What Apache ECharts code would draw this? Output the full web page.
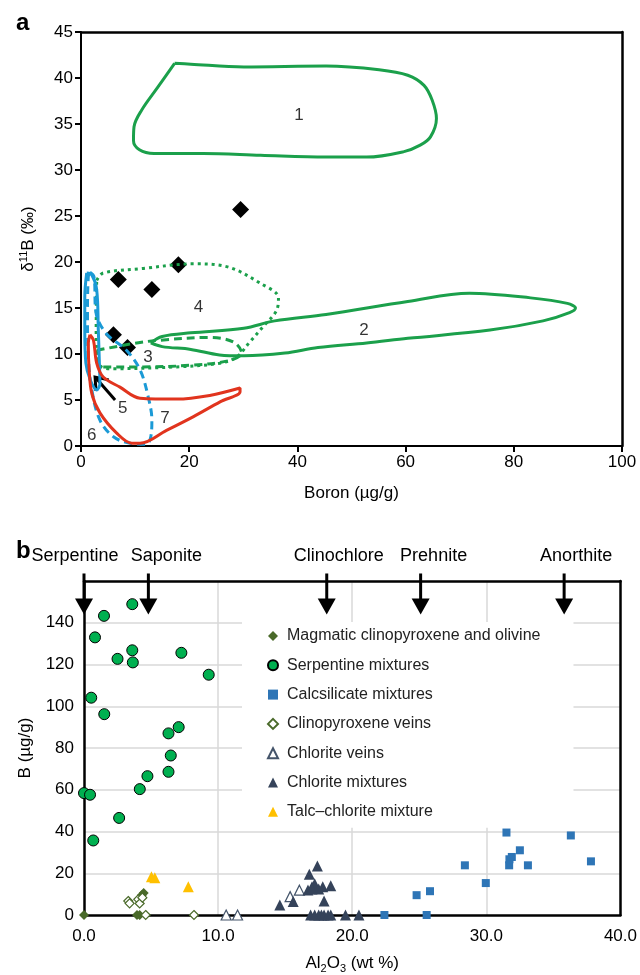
<!DOCTYPE html>
<html>
<head>
<meta charset="utf-8">
<style>
html, body { margin: 0; padding: 0; background: #fff; }
#chart { width: 640px; height: 975px; }
</style>
<script src="https://cdn.jsdelivr.net/npm/echarts@6/dist/echarts.min.js"></script>
</head>
<body>
<div id="chart"></div>
<script>
// ---- Panel a: fields in boron (µg/g) vs d11B (permil) ----
const field1 = [[17.3,41.6],[20.3,41.5],[30.1,41.2],[45.3,41.3],[55.1,40.9],[60.4,40.3],[63.4,39.2],[64.9,37.6],[65.7,35.6],[64.6,33.6],[62.7,32.7],[59.7,32.0],[52.8,31.4],[45.3,31.4],[33.2,31.6],[22.6,31.8],[13.5,31.8],[10.8,32.2],[9.7,33.2],[9.8,34.7],[11.2,36.5],[14.2,39.0]];
const field2 = [[12.9,11.2],[15.0,11.9],[20.3,12.3],[30.1,12.8],[35.8,13.6],[45.3,14.3],[60.4,15.7],[71.8,16.6],[83.1,16.1],[89.9,15.5],[91.4,15.0],[90.3,14.5],[85.4,13.6],[75.6,12.6],[60.4,11.7],[52.8,11.2],[43.8,10.7],[37.7,10.1],[30.1,9.8],[25.6,9.9],[20.3,10.5],[15.0,10.8]];
const field3 = [[2.9,10.4],[10.3,11.2],[14.6,11.5],[23.8,11.8],[28.2,11.3],[29.7,10.1],[27.5,9.3],[20.8,8.8],[11.5,8.6],[4.1,8.6],[2.9,9.3]];
const field4 = [[2.9,18.0],[4.1,18.8],[11.5,19.3],[20.8,19.8],[26.9,19.5],[33.1,17.7],[36.5,16.1],[36.2,14.8],[33.7,13.0],[31.2,11.3],[28.8,9.7],[25.7,9.0],[17.7,8.6],[5.4,8.4],[3.5,8.8],[2.8,12.6]];
const field5 = [[1.05,18.8],[0.7,16.2],[0.7,12.6],[0.9,9.0],[1.7,7.2],[2.9,6.1],[3.5,6.8],[3.4,9.0],[3.2,12.6],[2.9,17.0],[2.0,18.6]];
const field6 = [[1.66,18.9],[2.4,18.4],[2.8,14.4],[4.7,12.2],[8.4,10.4],[10.9,8.3],[12.4,5.4],[13.1,2.8],[12.9,1.0],[12.1,0.2],[9.1,0.3],[6.0,1.0],[3.5,2.8],[2.0,6.1],[1.35,9.7],[1.2,14.4],[1.35,18.4]];
const field7 = [[1.66,12.1],[2.3,11.5],[2.9,9.0],[4.1,7.5],[7.2,6.4],[10.9,5.2],[17.7,5.1],[23.8,5.5],[29.4,6.3],[29.4,5.9],[25.7,4.8],[20.8,3.2],[15.8,1.7],[10.9,0.3],[9.4,0.3],[6.6,1.4],[3.5,3.6],[2.0,5.7],[1.5,8.3],[1.35,11.2]];
const fieldLabels = ['1', '2', '3', '4', '5', '6', '7'];
const fieldLabelX = [40.3, 52.3, 12.4, 21.7, 7.7, 2.0, 15.5];
const fieldLabelY = [35.9, 12.6, 9.6, 15.1, 4.1, 1.2, 3.0];
const samplesBoron = [6.9, 13.1, 18.0, 6.0, 8.6, 29.5];
const samplesD11B = [18.1, 17.0, 19.7, 12.1, 10.7, 25.7];
const pointerArrow = [[6.3, 5.0, 2.6, 7.5]];

// ---- Panel b: Al2O3 (wt %) vs B (µg/g) ----
const magmatic = [[0,0],[3.95,0],[4.15,0],[4.3,9.5],[4.45,10.5]];
const serpentineMix = [[3.6,148.9],[1.49,143.3],[0.82,133],[3.6,126.8],[2.5,122.7],[3.64,121],[7.26,125.6],[9.3,115.1],[0.54,104.1],[1.51,96.2],[6.3,87],[7.06,90],[6.47,76.4],[6.3,68.6],[4.73,66.5],[4.16,60.3],[0,58.4],[0.45,57.6],[2.62,46.5],[0.69,35.7]];
const calcsilicateMix = [[22.4,0],[25.55,0],[24.8,9.5],[25.8,11.4],[28.4,23.8],[29.96,15.3],[31.5,39.5],[31.7,23.8],[31.72,26.7],[31.9,27.8],[32.5,31],[33.1,23.8],[36.3,38.1],[37.8,25.7]];
const cpxVeins = [[3.3,6.7],[3.4,5.6],[4.05,7.5],[4.15,5.5],[4.35,8.3],[4.6,0],[8.2,0]];
const chloriteVeins = [[10.6,0],[11.45,0],[15.37,8.8],[16.06,11.9]];
const chloriteMix = [[14.6,4.8],[15.6,6.5],[16.8,19.5],[17.4,23.5],[16.7,12],[17.0,13.5],[17.2,15],[17.5,12.5],[17.8,13.5],[18.4,14],[17.9,6.7],[17.0,12.5],[16.9,0],[17.2,0],[17.5,0],[17.7,0],[17.9,0],[18.2,0],[18.4,0],[19.5,0],[20.5,0]];
const talcChlorite = [[5.03,18.3],[5.28,17.8],[7.78,13.5]];
const mineralNames = ['Serpentine', 'Saponite', 'Clinochlore', 'Prehnite', 'Anorthite'];
const mineralAl2O3 = [0, 4.8, 18.1, 25.1, 35.8];
const arrowTopB = 163.6;
const arrowTipB = 144;

const FONT = '"Liberation Sans", Arial, sans-serif';
const GREEN = '#1ba04b';
const BLUE = '#1b9ad6';
const RED = '#e1341e';
const mineralLabelDx = [-9, 18, 12, 13, 12];

const chart = echarts.init(document.getElementById('chart'));

function fieldSeries(pts, color, type) {
    return {
        type: 'line',
        xAxisIndex: 0,
        yAxisIndex: 0,
        data: pts.concat([pts[0]]),
        smooth: 0.35,
        symbol: 'none',
        silent: true,
        lineStyle: {color: color, width: 3, type: type}
    };
}

function pointSeries(name, symbol, size, style, data) {
    return {
        name: name,
        type: 'scatter',
        xAxisIndex: 2,
        yAxisIndex: 2,
        symbol: symbol,
        symbolSize: size,
        itemStyle: Object.assign({opacity: 1}, style),
        data: data
    };
}

const axisA = {
    axisLine: {lineStyle: {color: '#000', width: 2}},
    axisTick: {show: true, length: 6, lineStyle: {color: '#000', width: 2}},
    axisLabel: {color: '#000', fontSize: 17, fontFamily: FONT},
    splitLine: {show: false},
    nameTextStyle: {color: '#000', fontSize: 17, fontFamily: FONT}
};
const axisB = {
    axisLine: {lineStyle: {color: '#000', width: 2.5}},
    axisTick: {show: false},
    axisLabel: {color: '#000', fontSize: 17, fontFamily: FONT},
    splitLine: {show: true, showMinLine: false, showMaxLine: false, lineStyle: {color: '#d9d9d9', width: 1.5}},
    nameTextStyle: {color: '#000', fontSize: 17, fontFamily: FONT}
};
const borderAxis = {
    axisLine: {show: true, onZero: false, lineStyle: {color: '#000', width: 2.5}},
    axisTick: {show: false},
    axisLabel: {show: false},
    splitLine: {show: false},
    z: 3
};

chart.setOption({
    animation: false,
    textStyle: {fontFamily: FONT},
    title: [
        {text: 'a', left: 11, top: 6, textStyle: {fontSize: 24, fontWeight: 'bold', color: '#000', fontFamily: FONT}},
        {text: 'b', left: 11, top: 534, textStyle: {fontSize: 24, fontWeight: 'bold', color: '#000', fontFamily: FONT}}
    ],
    grid: [
        {left: 81, right: 18, top: 32, height: 414},
        {left: 84, right: 18, top: 581, height: 336}
    ],
    legend: {
        orient: 'vertical',
        left: 242,
        top: 622,
        padding: [6, 33, 8, 25],
        itemGap: 13.3,
        itemWidth: 10,
        itemHeight: 10,
        selectedMode: false,
        backgroundColor: '#fff',
        textStyle: {color: '#222', fontSize: 16, fontFamily: FONT, padding: [0, 0, 0, 4]},
        data: ['Magmatic clinopyroxene and olivine', 'Serpentine mixtures', 'Calcsilicate mixtures',
            'Clinopyroxene veins', 'Chlorite veins', 'Chlorite mixtures', 'Talc\u2013chlorite mixture']
    },
    xAxis: [
        Object.assign({}, axisA, {
            gridIndex: 0, type: 'value', min: 0, max: 100, interval: 20,
            axisLabel: Object.assign({}, axisA.axisLabel, {margin: 8}),
            name: 'Boron (\u00b5g/g)', nameLocation: 'middle', nameGap: 39
        }),
        Object.assign({}, borderAxis, {gridIndex: 0, type: 'value', position: 'top', min: 0, max: 100}),
        Object.assign({}, axisB, {
            gridIndex: 1, type: 'value', min: 0, max: 40, interval: 10,
            axisLabel: Object.assign({}, axisB.axisLabel, {margin: 13, formatter: v => v.toFixed(1)}),
            name: 'Al{s|2}O{s|3} (wt %)', nameLocation: 'middle', nameGap: 38,
            nameTextStyle: Object.assign({}, axisB.nameTextStyle, {
                rich: {s: {fontSize: 11, fontFamily: FONT, color: '#000', verticalAlign: 'bottom', padding: [10, 0, 0, 0]}}
            })
        }),
        Object.assign({}, borderAxis, {gridIndex: 1, type: 'value', position: 'top', min: 0, max: 40})
    ],
    yAxis: [
        Object.assign({}, axisA, {
            gridIndex: 0, type: 'value', min: 0, max: 45, interval: 5,
            axisLabel: Object.assign({}, axisA.axisLabel, {margin: 8}),
            name: '\u03b4{s|11}B (\u2030)', nameLocation: 'middle', nameGap: 42,
            nameTextStyle: Object.assign({}, axisA.nameTextStyle, {
                rich: {s: {fontSize: 11, fontFamily: FONT, color: '#000', verticalAlign: 'top', padding: [0, 0, 10, 0]}}
            })
        }),
        Object.assign({}, borderAxis, {gridIndex: 0, type: 'value', position: 'right', min: 0, max: 45}),
        Object.assign({}, axisB, {
            gridIndex: 1, type: 'value', min: 0, max: 160, interval: 20,
            axisLabel: Object.assign({}, axisB.axisLabel, {margin: 10, formatter: v => (v >= 160 ? '' : String(v))}),
            name: 'B (\u00b5g/g)', nameLocation: 'middle', nameGap: 50
        }),
        Object.assign({}, borderAxis, {gridIndex: 1, type: 'value', position: 'right', min: 0, max: 160})
    ],
    series: [
        fieldSeries(field1, GREEN, 'solid'),
        fieldSeries(field2, GREEN, 'solid'),
        fieldSeries(field3, GREEN, [8, 5]),
        fieldSeries(field4, GREEN, [3, 4]),
        fieldSeries(field5, BLUE, 'solid'),
        fieldSeries(field6, BLUE, [8, 5]),
        fieldSeries(field7, RED, 'solid'),
        {
            type: 'scatter',
            xAxisIndex: 0, yAxisIndex: 0,
            symbolSize: 0,
            silent: true,
            data: fieldLabels.map((t, i) => ({name: t, value: [fieldLabelX[i], fieldLabelY[i]]})),
            label: {show: true, position: 'inside', formatter: p => p.name, color: '#000', fontSize: 17, fontFamily: FONT}
        },
        {
            type: 'scatter',
            xAxisIndex: 0, yAxisIndex: 0,
            symbol: 'diamond',
            symbolSize: 17,
            silent: true,
            itemStyle: {color: '#000', opacity: 1},
            data: samplesBoron.map((b, i) => [b, samplesD11B[i]])
        },
        {
            type: 'custom',
            xAxisIndex: 0, yAxisIndex: 0,
            clip: false,
            silent: true,
            data: pointerArrow,
            renderItem: function (params, api) {
                const tail = api.coord([api.value(0), api.value(1)]);
                const head = api.coord([api.value(2), api.value(3)]);
                const ang = Math.atan2(tail[1] - head[1], tail[0] - head[0]);
                const len = 14, spread = 0.65;
                const a1 = [head[0] + len * Math.cos(ang + spread), head[1] + len * Math.sin(ang + spread)];
                const a2 = [head[0] + len * Math.cos(ang - spread), head[1] + len * Math.sin(ang - spread)];
                const st = {stroke: '#000', lineWidth: 3, fill: null};
                return {
                    type: 'group',
                    children: [
                        {type: 'line', shape: {x1: tail[0], y1: tail[1], x2: head[0], y2: head[1]}, style: st},
                        {type: 'polyline', shape: {points: [a1, head, a2]}, style: st}
                    ]
                };
            }
        },
        // ---- panel b ----
        pointSeries('Magmatic clinopyroxene and olivine', 'diamond', 10, {color: '#4a6a2a'}, magmatic),
        pointSeries('Serpentine mixtures', 'circle', 11, {color: '#00b050', borderColor: '#000', borderWidth: 1}, serpentineMix),
        pointSeries('Calcsilicate mixtures', 'rect', 8, {color: '#2e75b6'}, calcsilicateMix),
        pointSeries('Clinopyroxene veins', 'diamond', 9, {color: '#fff', borderColor: '#4a6a2a', borderWidth: 1.2}, cpxVeins),
        pointSeries('Chlorite veins', 'triangle', 10, {color: '#fff', borderColor: '#44546a', borderWidth: 1.2}, chloriteVeins),
        pointSeries('Chlorite mixtures', 'triangle', 11, {color: '#35435a'}, chloriteMix),
        pointSeries('Talc\u2013chlorite mixture', 'triangle', 11, {color: '#ffc000'}, talcChlorite),
        {
            type: 'custom',
            xAxisIndex: 2, yAxisIndex: 2,
            clip: false,
            silent: true,
            z: 5,
            data: mineralAl2O3.map(x => [x, arrowTopB, arrowTipB]),
            renderItem: function (params, api) {
                const top = api.coord([api.value(0), api.value(1)]);
                const tip = api.coord([api.value(0), api.value(2)]);
                const headH = 16, headW = 9;
                return {
                    type: 'group',
                    children: [
                        {type: 'line', shape: {x1: top[0], y1: top[1], x2: tip[0], y2: tip[1] - headH + 2}, style: {stroke: '#000', lineWidth: 3}},
                        {type: 'polygon', shape: {points: [[tip[0] - headW, tip[1] - headH], [tip[0] + headW, tip[1] - headH], [tip[0], tip[1]]]}, style: {fill: '#000'}},
                        {
                            type: 'text',
                            style: {
                                text: mineralNames[params.dataIndex],
                                x: top[0] + mineralLabelDx[params.dataIndex],
                                y: top[1] - 17,
                                align: 'center',
                                verticalAlign: 'middle',
                                fontSize: 18,
                                fontFamily: FONT,
                                fill: '#000'
                            }
                        }
                    ]
                };
            }
        }
    ]
});
</script>
</body>
</html>
